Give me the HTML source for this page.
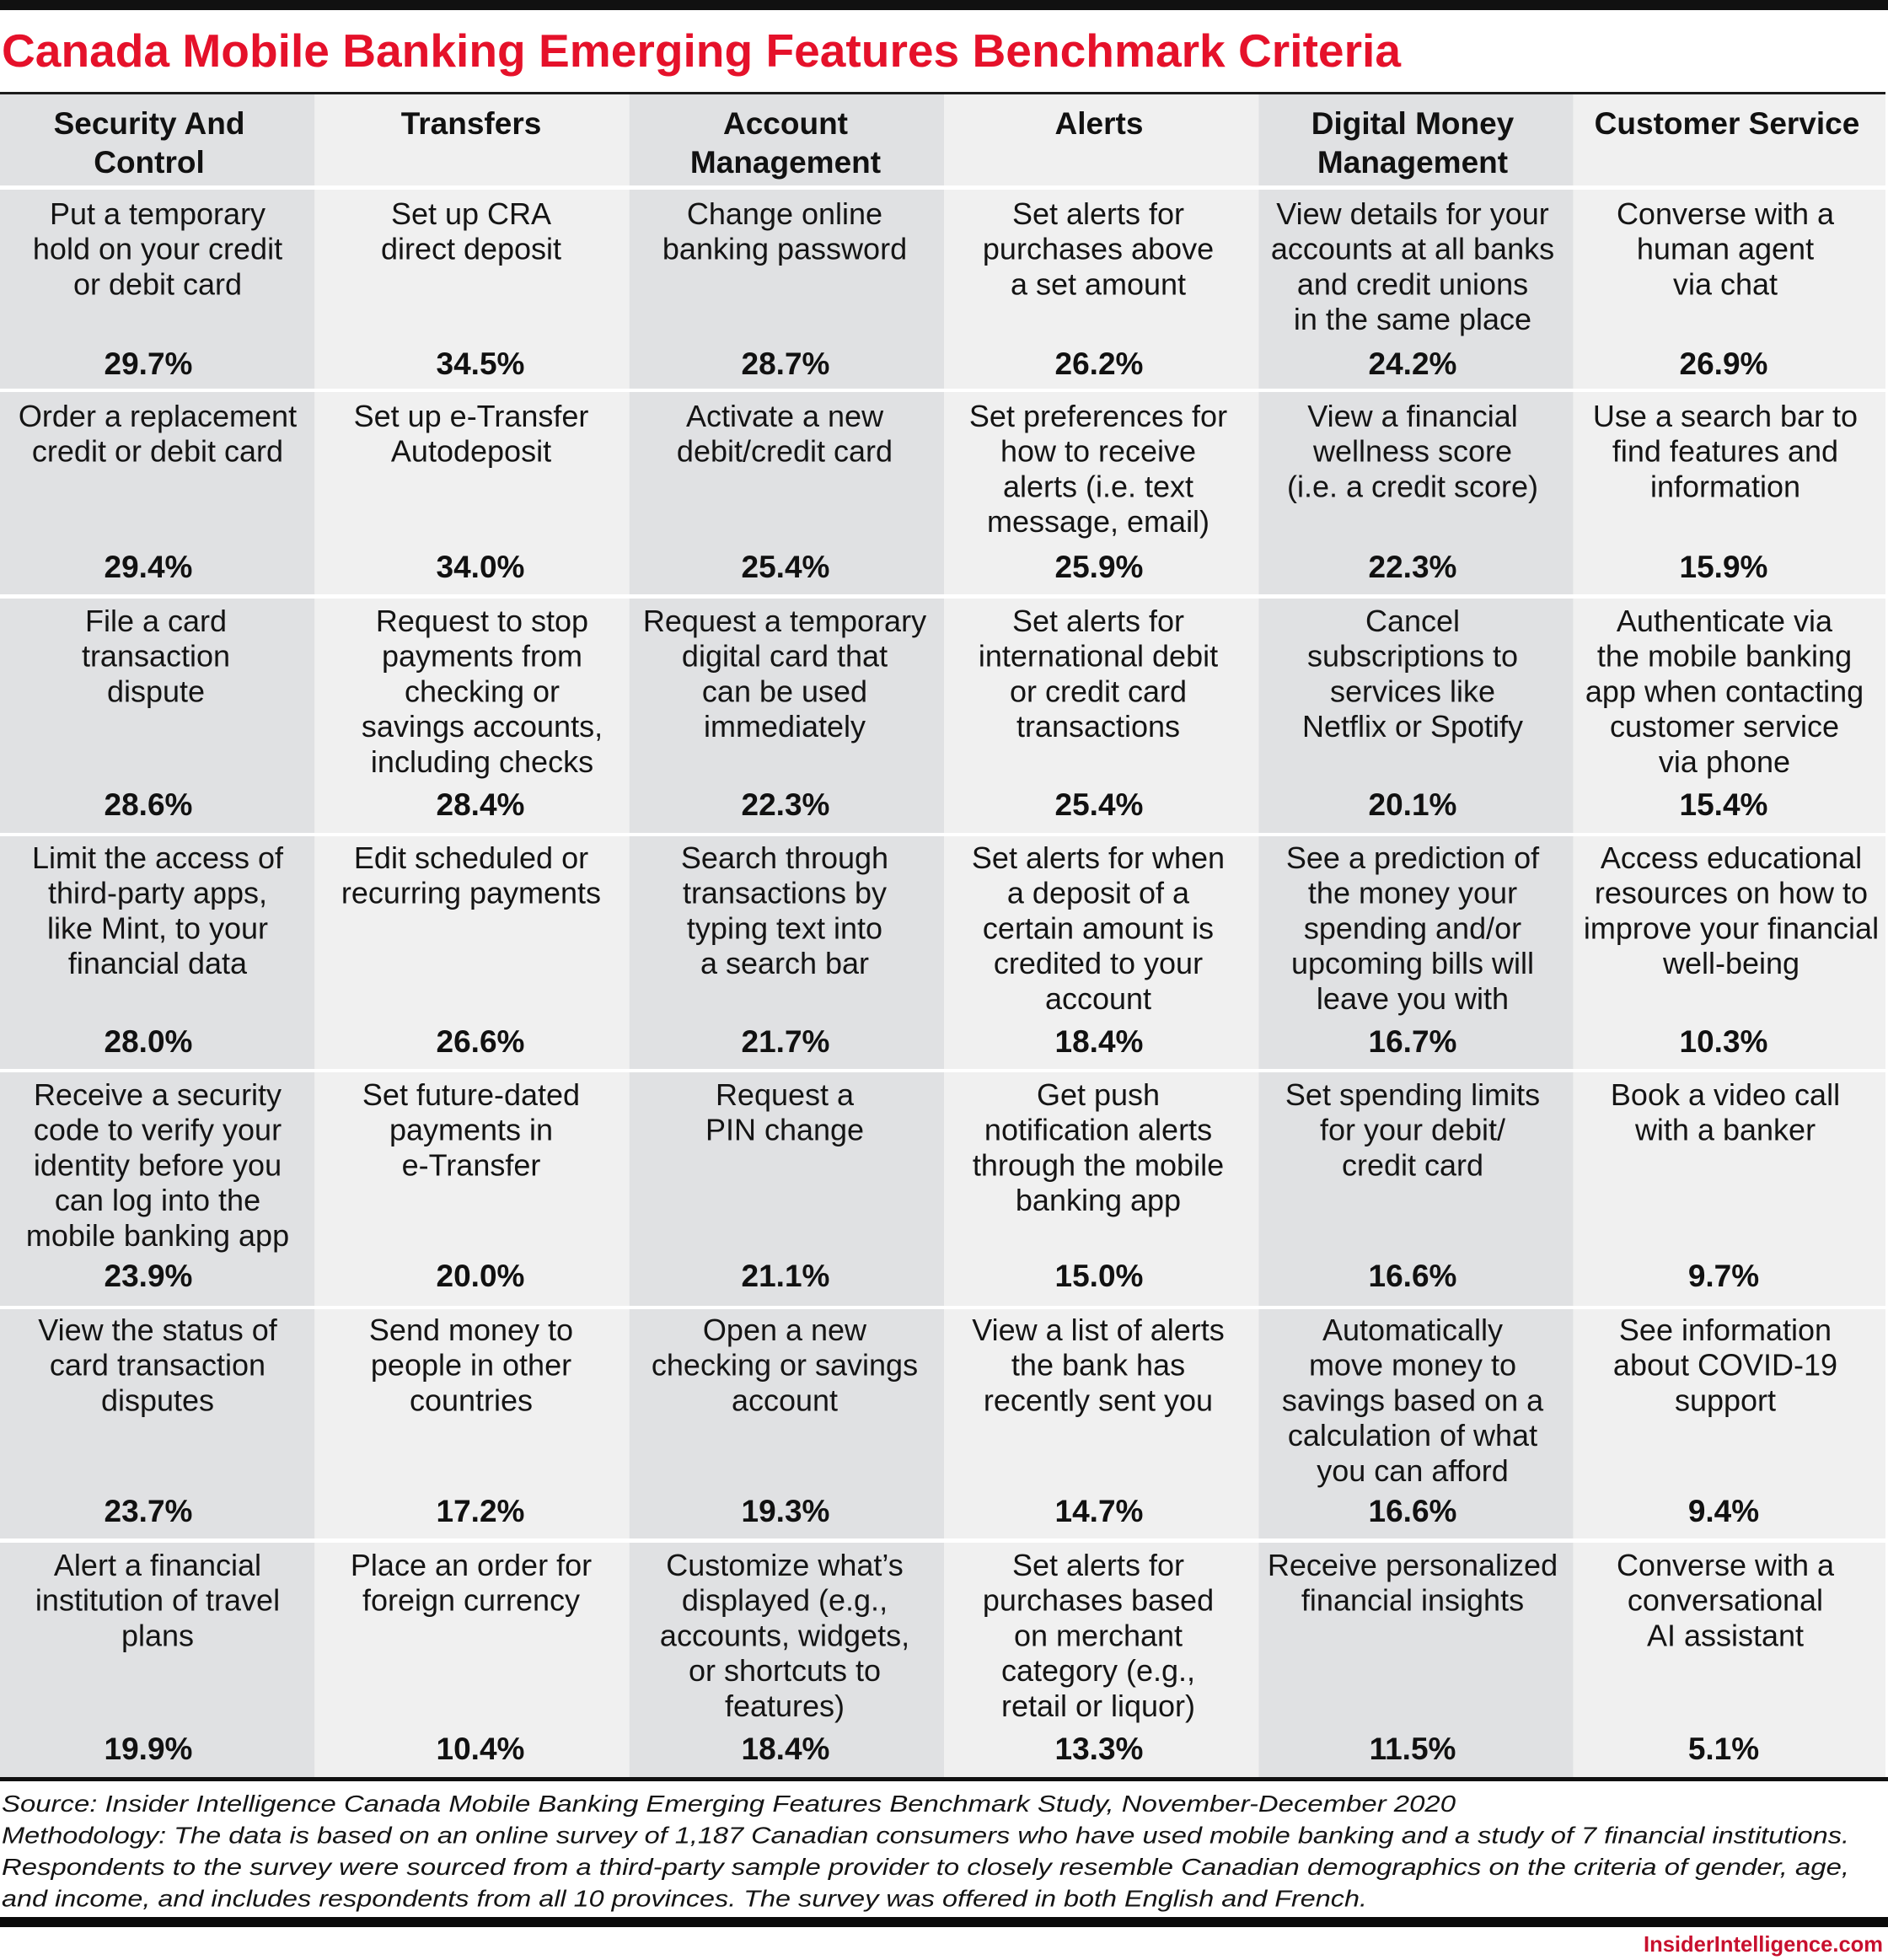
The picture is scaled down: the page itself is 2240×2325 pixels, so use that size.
<!DOCTYPE html>
<html>
<head>
<meta charset="utf-8">
<style>
  html,body{margin:0;padding:0;background:#ffffff;}
  svg{display:block;}
  .t{font-family:"Liberation Sans",Arial,sans-serif;font-size:36px;text-anchor:middle;fill:#141414;}
  .p{font-family:"Liberation Sans",Arial,sans-serif;font-size:37px;font-weight:bold;text-anchor:middle;fill:#111111;}
  .h{font-family:"Liberation Sans",Arial,sans-serif;font-size:37px;font-weight:bold;text-anchor:middle;fill:#111111;}
  .f{font-family:"Liberation Sans",Arial,sans-serif;font-size:28px;font-style:italic;fill:#141414;}
</style>
</head>
<body>
<svg xmlns="http://www.w3.org/2000/svg" width="2240" height="2325" viewBox="0 0 2240 2325">
  <rect x="0" y="0" width="2240" height="2325" fill="#ffffff"/>
  <!-- top bar -->
  <rect x="0" y="0" width="2240" height="12" fill="#111111"/>
  <!-- title -->
  <text x="2" y="79" font-family="Liberation Sans, Arial, sans-serif" font-size="55" font-weight="bold" fill="#e5112a" textLength="1660" lengthAdjust="spacingAndGlyphs">Canada Mobile Banking Emerging Features Benchmark Criteria</text>
  <rect x="0" y="109" width="2237" height="3" fill="#1c1c1c"/>

  <!-- column backgrounds -->
  <rect x="0" y="112" width="373.33" height="1996" fill="#e0e1e3"/>
  <rect x="373.33" y="112" width="373.34" height="1996" fill="#f0f0f0"/>
  <rect x="746.67" y="112" width="373.33" height="1996" fill="#e0e1e3"/>
  <rect x="1120" y="112" width="373.33" height="1996" fill="#f0f0f0"/>
  <rect x="1493.33" y="112" width="373.34" height="1996" fill="#e0e1e3"/>
  <rect x="1866.67" y="112" width="370.33" height="1996" fill="#f0f0f0"/>

  <!-- white row gaps -->
  <rect x="0" y="220" width="2240" height="5" fill="#ffffff"/>
  <rect x="0" y="461" width="2240" height="4" fill="#ffffff"/>
  <rect x="0" y="705" width="2240" height="5" fill="#ffffff"/>
  <rect x="0" y="988" width="2240" height="4" fill="#ffffff"/>
  <rect x="0" y="1268" width="2240" height="4" fill="#ffffff"/>
  <rect x="0" y="1549" width="2240" height="4" fill="#ffffff"/>
  <rect x="0" y="1825" width="2240" height="5" fill="#ffffff"/>

  <!-- bottom table line -->
  <rect x="0" y="2108" width="2240" height="5" fill="#111111"/>

  <!-- header -->
  <text class="h" x="177" y="159">Security And</text>
  <text class="h" x="177" y="205">Control</text>
  <text class="h" x="559" y="159">Transfers</text>
  <text class="h" x="932" y="159">Account</text>
  <text class="h" x="932" y="205">Management</text>
  <text class="h" x="1304" y="159">Alerts</text>
  <text class="h" x="1676" y="159">Digital Money</text>
  <text class="h" x="1676" y="205">Management</text>
  <text class="h" x="2049" y="159">Customer Service</text>

  <!-- Row 1 -->
  <text class="t" x="187" y="266">Put a temporary</text>
  <text class="t" x="187" y="307.7">hold on your credit</text>
  <text class="t" x="187" y="349.4">or debit card</text>
  <text class="p" x="176" y="444">29.7%</text>

  <text class="t" x="559" y="266">Set up CRA</text>
  <text class="t" x="559" y="307.7">direct deposit</text>
  <text class="p" x="570" y="444">34.5%</text>

  <text class="t" x="931" y="266">Change online</text>
  <text class="t" x="931" y="307.7">banking password</text>
  <text class="p" x="932" y="444">28.7%</text>

  <text class="t" x="1303" y="266">Set alerts for</text>
  <text class="t" x="1303" y="307.7">purchases above</text>
  <text class="t" x="1303" y="349.4">a set amount</text>
  <text class="p" x="1304" y="444">26.2%</text>

  <text class="t" x="1676" y="266">View details for your</text>
  <text class="t" x="1676" y="307.7">accounts at all banks</text>
  <text class="t" x="1676" y="349.4">and credit unions</text>
  <text class="t" x="1676" y="391.1">in the same place</text>
  <text class="p" x="1676" y="444">24.2%</text>

  <text class="t" x="2047" y="266">Converse with a</text>
  <text class="t" x="2047" y="307.7">human agent</text>
  <text class="t" x="2047" y="349.4">via chat</text>
  <text class="p" x="2045" y="444">26.9%</text>

  <!-- Row 2 -->
  <text class="t" x="187" y="506">Order a replacement</text>
  <text class="t" x="187" y="547.7">credit or debit card</text>
  <text class="p" x="176" y="685">29.4%</text>

  <text class="t" x="559" y="506">Set up e-Transfer</text>
  <text class="t" x="559" y="547.7">Autodeposit</text>
  <text class="p" x="570" y="685">34.0%</text>

  <text class="t" x="931" y="506">Activate a new</text>
  <text class="t" x="931" y="547.7">debit/credit card</text>
  <text class="p" x="932" y="685">25.4%</text>

  <text class="t" x="1303" y="506">Set preferences for</text>
  <text class="t" x="1303" y="547.7">how to receive</text>
  <text class="t" x="1303" y="589.4">alerts (i.e. text</text>
  <text class="t" x="1303" y="631.1">message, email)</text>
  <text class="p" x="1304" y="685">25.9%</text>

  <text class="t" x="1676" y="506">View a financial</text>
  <text class="t" x="1676" y="547.7">wellness score</text>
  <text class="t" x="1676" y="589.4">(i.e. a credit score)</text>
  <text class="p" x="1676" y="685">22.3%</text>

  <text class="t" x="2047" y="506">Use a search bar to</text>
  <text class="t" x="2047" y="547.7">find features and</text>
  <text class="t" x="2047" y="589.4">information</text>
  <text class="p" x="2045" y="685">15.9%</text>

  <!-- Row 3 -->
  <text class="t" x="185" y="749">File a card</text>
  <text class="t" x="185" y="790.7">transaction</text>
  <text class="t" x="185" y="832.4">dispute</text>
  <text class="p" x="176" y="967">28.6%</text>

  <text class="t" x="572" y="749">Request to stop</text>
  <text class="t" x="572" y="790.7">payments from</text>
  <text class="t" x="572" y="832.4">checking or</text>
  <text class="t" x="572" y="874.1">savings accounts,</text>
  <text class="t" x="572" y="915.8">including checks</text>
  <text class="p" x="570" y="967">28.4%</text>

  <text class="t" x="931" y="749">Request a temporary</text>
  <text class="t" x="931" y="790.7">digital card that</text>
  <text class="t" x="931" y="832.4">can be used</text>
  <text class="t" x="931" y="874.1">immediately</text>
  <text class="p" x="932" y="967">22.3%</text>

  <text class="t" x="1303" y="749">Set alerts for</text>
  <text class="t" x="1303" y="790.7">international debit</text>
  <text class="t" x="1303" y="832.4">or credit card</text>
  <text class="t" x="1303" y="874.1">transactions</text>
  <text class="p" x="1304" y="967">25.4%</text>

  <text class="t" x="1676" y="749">Cancel</text>
  <text class="t" x="1676" y="790.7">subscriptions to</text>
  <text class="t" x="1676" y="832.4">services like</text>
  <text class="t" x="1676" y="874.1">Netflix or Spotify</text>
  <text class="p" x="1676" y="967">20.1%</text>

  <text class="t" x="2046" y="749">Authenticate via</text>
  <text class="t" x="2046" y="790.7">the mobile banking</text>
  <text class="t" x="2046" y="832.4">app when contacting</text>
  <text class="t" x="2046" y="874.1">customer service</text>
  <text class="t" x="2046" y="915.8">via phone</text>
  <text class="p" x="2045" y="967">15.4%</text>

  <!-- Row 4 -->
  <text class="t" x="187" y="1030">Limit the access of</text>
  <text class="t" x="187" y="1071.7">third-party apps,</text>
  <text class="t" x="187" y="1113.4">like Mint, to your</text>
  <text class="t" x="187" y="1155.1">financial data</text>
  <text class="p" x="176" y="1248">28.0%</text>

  <text class="t" x="559" y="1030">Edit scheduled or</text>
  <text class="t" x="559" y="1071.7">recurring payments</text>
  <text class="p" x="570" y="1248">26.6%</text>

  <text class="t" x="931" y="1030">Search through</text>
  <text class="t" x="931" y="1071.7">transactions by</text>
  <text class="t" x="931" y="1113.4">typing text into</text>
  <text class="t" x="931" y="1155.1">a search bar</text>
  <text class="p" x="932" y="1248">21.7%</text>

  <text class="t" x="1303" y="1030">Set alerts for when</text>
  <text class="t" x="1303" y="1071.7">a deposit of a</text>
  <text class="t" x="1303" y="1113.4">certain amount is</text>
  <text class="t" x="1303" y="1155.1">credited to your</text>
  <text class="t" x="1303" y="1196.8">account</text>
  <text class="p" x="1304" y="1248">18.4%</text>

  <text class="t" x="1676" y="1030">See a prediction of</text>
  <text class="t" x="1676" y="1071.7">the money your</text>
  <text class="t" x="1676" y="1113.4">spending and/or</text>
  <text class="t" x="1676" y="1155.1">upcoming bills will</text>
  <text class="t" x="1676" y="1196.8">leave you with</text>
  <text class="p" x="1676" y="1248">16.7%</text>

  <text class="t" x="2054" y="1030">Access educational</text>
  <text class="t" x="2054" y="1071.7">resources on how to</text>
  <text class="t" x="2054" y="1113.4">improve your financial</text>
  <text class="t" x="2054" y="1155.1">well-being</text>
  <text class="p" x="2045" y="1248">10.3%</text>

  <!-- Row 5 -->
  <text class="t" x="187" y="1311">Receive a security</text>
  <text class="t" x="187" y="1352.7">code to verify your</text>
  <text class="t" x="187" y="1394.4">identity before you</text>
  <text class="t" x="187" y="1436.1">can log into the</text>
  <text class="t" x="187" y="1477.8">mobile banking app</text>
  <text class="p" x="176" y="1526">23.9%</text>

  <text class="t" x="559" y="1311">Set future-dated</text>
  <text class="t" x="559" y="1352.7">payments in</text>
  <text class="t" x="559" y="1394.4">e-Transfer</text>
  <text class="p" x="570" y="1526">20.0%</text>

  <text class="t" x="931" y="1311">Request a</text>
  <text class="t" x="931" y="1352.7">PIN change</text>
  <text class="p" x="932" y="1526">21.1%</text>

  <text class="t" x="1303" y="1311">Get push</text>
  <text class="t" x="1303" y="1352.7">notification alerts</text>
  <text class="t" x="1303" y="1394.4">through the mobile</text>
  <text class="t" x="1303" y="1436.1">banking app</text>
  <text class="p" x="1304" y="1526">15.0%</text>

  <text class="t" x="1676" y="1311">Set spending limits</text>
  <text class="t" x="1676" y="1352.7">for your debit/</text>
  <text class="t" x="1676" y="1394.4">credit card</text>
  <text class="p" x="1676" y="1526">16.6%</text>

  <text class="t" x="2047" y="1311">Book a video call</text>
  <text class="t" x="2047" y="1352.7">with a banker</text>
  <text class="p" x="2045" y="1526">9.7%</text>

  <!-- Row 6 -->
  <text class="t" x="187" y="1590">View the status of</text>
  <text class="t" x="187" y="1631.7">card transaction</text>
  <text class="t" x="187" y="1673.4">disputes</text>
  <text class="p" x="176" y="1805">23.7%</text>

  <text class="t" x="559" y="1590">Send money to</text>
  <text class="t" x="559" y="1631.7">people in other</text>
  <text class="t" x="559" y="1673.4">countries</text>
  <text class="p" x="570" y="1805">17.2%</text>

  <text class="t" x="931" y="1590">Open a new</text>
  <text class="t" x="931" y="1631.7">checking or savings</text>
  <text class="t" x="931" y="1673.4">account</text>
  <text class="p" x="932" y="1805">19.3%</text>

  <text class="t" x="1303" y="1590">View a list of alerts</text>
  <text class="t" x="1303" y="1631.7">the bank has</text>
  <text class="t" x="1303" y="1673.4">recently sent you</text>
  <text class="p" x="1304" y="1805">14.7%</text>

  <text class="t" x="1676" y="1590">Automatically</text>
  <text class="t" x="1676" y="1631.7">move money to</text>
  <text class="t" x="1676" y="1673.4">savings based on a</text>
  <text class="t" x="1676" y="1715.1">calculation of what</text>
  <text class="t" x="1676" y="1756.8">you can afford</text>
  <text class="p" x="1676" y="1805">16.6%</text>

  <text class="t" x="2047" y="1590">See information</text>
  <text class="t" x="2047" y="1631.7">about COVID-19</text>
  <text class="t" x="2047" y="1673.4">support</text>
  <text class="p" x="2045" y="1805">9.4%</text>

  <!-- Row 7 -->
  <text class="t" x="187" y="1869">Alert a financial</text>
  <text class="t" x="187" y="1910.7">institution of travel</text>
  <text class="t" x="187" y="1952.4">plans</text>
  <text class="p" x="176" y="2087">19.9%</text>

  <text class="t" x="559" y="1869">Place an order for</text>
  <text class="t" x="559" y="1910.7">foreign currency</text>
  <text class="p" x="570" y="2087">10.4%</text>

  <text class="t" x="931" y="1869">Customize what’s</text>
  <text class="t" x="931" y="1910.7">displayed (e.g.,</text>
  <text class="t" x="931" y="1952.4">accounts, widgets,</text>
  <text class="t" x="931" y="1994.1">or shortcuts to</text>
  <text class="t" x="931" y="2035.8">features)</text>
  <text class="p" x="932" y="2087">18.4%</text>

  <text class="t" x="1303" y="1869">Set alerts for</text>
  <text class="t" x="1303" y="1910.7">purchases based</text>
  <text class="t" x="1303" y="1952.4">on merchant</text>
  <text class="t" x="1303" y="1994.1">category (e.g.,</text>
  <text class="t" x="1303" y="2035.8">retail or liquor)</text>
  <text class="p" x="1304" y="2087">13.3%</text>

  <text class="t" x="1676" y="1869">Receive personalized</text>
  <text class="t" x="1676" y="1910.7">financial insights</text>
  <text class="p" x="1676" y="2087">11.5%</text>

  <text class="t" x="2047" y="1869">Converse with a</text>
  <text class="t" x="2047" y="1910.7">conversational</text>
  <text class="t" x="2047" y="1952.4">AI assistant</text>
  <text class="p" x="2045" y="2087">5.1%</text>

  <!-- footer -->
  <text class="f" x="2" y="2149" textLength="1725" lengthAdjust="spacingAndGlyphs">Source: Insider Intelligence Canada Mobile Banking Emerging Features Benchmark Study, November-December 2020</text>
  <text class="f" x="2" y="2186.5" textLength="2192" lengthAdjust="spacingAndGlyphs">Methodology: The data is based on an online survey of 1,187 Canadian consumers who have used mobile banking and a study of 7 financial institutions.</text>
  <text class="f" x="2" y="2224" textLength="2192" lengthAdjust="spacingAndGlyphs">Respondents to the survey were sourced from a third-party sample provider to closely resemble Canadian demographics on the criteria of gender, age,</text>
  <text class="f" x="2" y="2261.5" textLength="1620" lengthAdjust="spacingAndGlyphs">and income, and includes respondents from all 10 provinces. The survey was offered in both English and French.</text>

  <!-- bottom bar -->
  <rect x="0" y="2274" width="2240" height="12" fill="#0a0a0a"/>
  <text x="1950" y="2315" font-family="Liberation Sans, Arial, sans-serif" font-size="26" font-weight="bold" fill="#c8102e" textLength="284" lengthAdjust="spacingAndGlyphs">InsiderIntelligence.com</text>
</svg>
</body>
</html>
